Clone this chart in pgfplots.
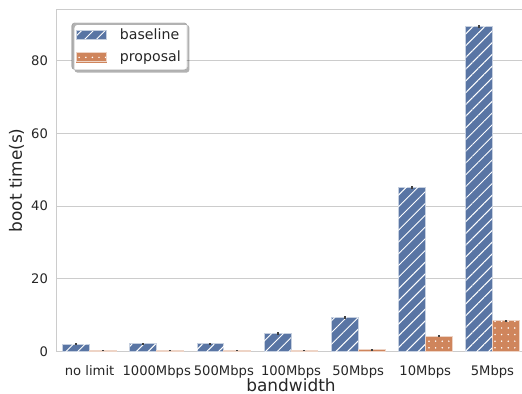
\documentclass[border=0pt]{standalone}
\usepackage{pgfplots}
\pgfplotsset{compat=1.18}
\usepackage{fontspec}
\setmainfont{DejaVu Sans}
\usetikzlibrary{patterns.meta}
\definecolor{sbblue}{HTML}{5975A4}
\definecolor{sborange}{HTML}{CF855C}
\definecolor{gridgray}{HTML}{CCCCCC}
\definecolor{txt}{HTML}{262626}
\pgfplotstableread{
x base baseerr prop properr
0 2.06 0.35 0.30 0.10
1 2.10 0.35 0.30 0.10
2 2.10 0.35 0.30 0.10
3 5.00 0.35 0.30 0.10
4 9.40 0.35 0.50 0.10
5 45.2 0.40 4.26 0.30
6 89.4 0.40 8.47 0.30
}\data
\tikzset{
  basestyle/.style={fill=sbblue, draw=sbblue!35!white, line width=0.8bp},
  basepat/.style={draw=none, pattern={Lines[angle=45,distance=8.3bp,line width=1bp]}, pattern color=white},
  propstyle/.style={fill=sborange, draw=sborange!35!white, line width=0.8bp},
  proppat/.style={draw=none, pattern={Dots[distance=6.6bp,radius=0.85bp]}, pattern color=white},
}
\begin{document}
\begin{tikzpicture}
\begin{axis}[
  name=ax, at={(0,0)}, anchor=south west,
  scale only axis, width=470bp, height=342.2bp,
  xmin=-0.5, xmax=6.5, ymin=0, ymax=94.1,
  ybar=0pt, bar width=26.85bp,
  xtick={0,...,6},
  xticklabels={no limit,1000Mbps,500Mbps,100Mbps,50Mbps,10Mbps,5Mbps},
  ytick={0,20,40,60,80},
  tick style={draw=none},
  /pgf/number format/assume math mode=true,
  ticklabel style={font=\fontsize{13.2}{15}\selectfont, text=txt},
  yticklabel style={xshift=-4.6bp},
  xticklabel style={yshift=-5.8bp},
  axis line style={draw=gridgray, line width=1bp},
  ymajorgrids, major grid style={draw=gridgray, line width=0.9bp},
  every axis y label/.style={at={([xshift=-39.5bp]axis description cs:0,0.5)}, rotate=90, anchor=center, font=\fontsize{17}{20}\selectfont, text=txt},
  every axis x label/.style={at={([yshift=-33.5bp]axis description cs:0.5,0)}, anchor=center, font=\fontsize{17}{20}\selectfont, text=txt},
  xlabel={bandwidth}, ylabel={boot time(s)},
  legend style={name=leg, at={(axis description cs:0.034,0.962)}, anchor=north west,
    draw=black!12, fill=white, rounded corners=3bp,
    font=\fontsize{14.2}{16}\selectfont, text=txt, inner xsep=4bp, inner ysep=4.5bp, row sep=6bp,
    /tikz/every odd column/.append style={column sep=11bp}},
  legend cell align=left,
]
\addplot[basestyle, bar shift=-13.425bp, forget plot] table[x=x,y=base]{\data};
\addplot[basepat, bar shift=-13.425bp, forget plot] table[x=x,y=base]{\data};
\addplot[propstyle, bar shift=13.425bp, forget plot] table[x=x,y=prop]{\data};
\addplot[proppat, bar shift=13.425bp, forget plot] table[x=x,y=prop]{\data};
\addplot[draw=none, fill=none, bar shift=-13.425bp, forget plot,
  error bars/.cd, y dir=both, y explicit, error mark=none,
  error bar style={draw=black!75, line width=2bp}]
  table[x=x,y=base,y error=baseerr]{\data};
\addplot[draw=none, fill=none, bar shift=13.425bp, forget plot,
  error bars/.cd, y dir=both, y explicit, error mark=none,
  error bar style={draw=black!75, line width=2bp}]
  table[x=x,y=prop,y error=properr]{\data};
\addlegendimage{legend image code/.code={
  \fill[sharp corners, sbblue] (0bp,-4.5bp) rectangle (30bp,4.5bp);
  \fill[sharp corners, basepat] (0bp,-4.5bp) rectangle (30bp,4.5bp);
  \draw[sharp corners, sbblue!35!white, line width=0.8bp] (0bp,-4.5bp) rectangle (30bp,4.5bp);}}
\addlegendentry{baseline}
\addlegendimage{legend image code/.code={
  \fill[sharp corners, sborange] (0bp,-4.5bp) rectangle (30bp,4.5bp);
  \fill[sharp corners, proppat] (0bp,-4.5bp) rectangle (30bp,4.5bp);
  \draw[sharp corners, sborange!35!white, line width=0.8bp] (0bp,-4.5bp) rectangle (30bp,4.5bp);}}
\addlegendentry{proposal}
\end{axis}
\fill[black, opacity=0.3, even odd rule, rounded corners=3bp]
  ([shift={(2.5bp,-2.5bp)}]leg.south west) rectangle ([shift={(2.5bp,-2.5bp)}]leg.north east)
  ([shift={(-0.5bp,0.5bp)}]leg.south west) rectangle ([shift={(0.5bp,-0.5bp)}]leg.north east);
\pgfresetboundingbox
\useasboundingbox ([xshift=-56bp,yshift=-42.5bp]ax.south west) rectangle ([xshift=466bp,yshift=351.5bp]ax.south west);
\end{tikzpicture}
\end{document}
